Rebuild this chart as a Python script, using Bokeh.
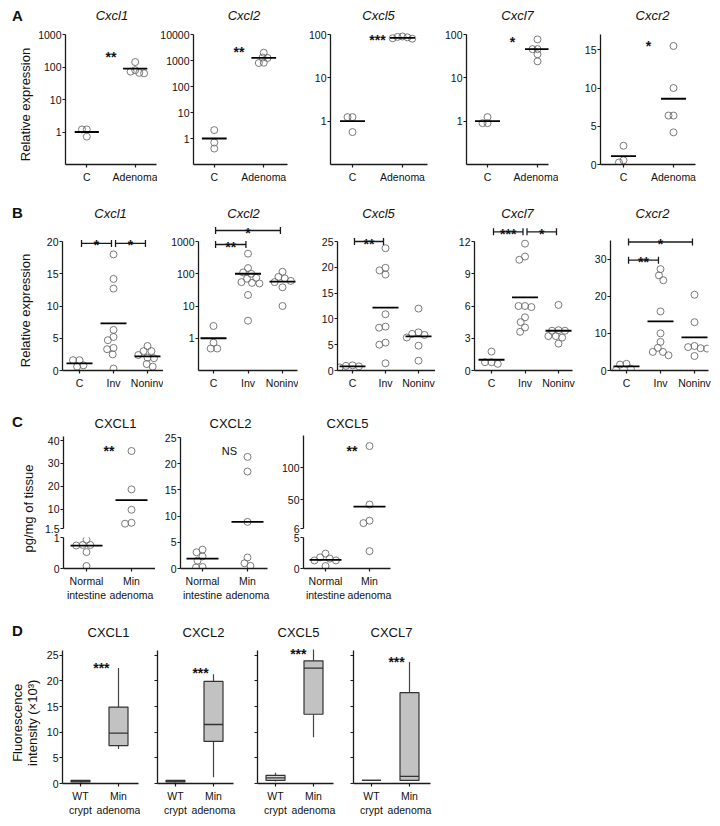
import math
from bokeh.plotting import figure
from bokeh.models import Range1d, FixedTicker, Label, NumeralTickFormatter
from bokeh.layouts import row, column
from bokeh.core.properties import value
from bokeh.embed import file_html
from bokeh.resources import INLINE

# ======================= DATA =======================
# ---- A: relative expression, control (C) vs adenoma ----
a_titles = ["Cxcl1", "Cxcl2", "Cxcl5", "Cxcl7", "Cxcr2"]
a_groups = ["C", "Adenoma"]
a_cxcl1_c = [1.2, 1.2, 0.72]
a_cxcl1_adenoma = [142, 80, 66, 64, 72]
a_cxcl2_c = [2.1, 0.7, 0.41]
a_cxcl2_adenoma = [2000, 1300, 1250, 820, 800]
a_cxcl5_c = [1.24, 1.24, 0.56]
a_cxcl5_adenoma = [90, 86, 82, 88, 80]
a_cxcl7_c = [1.24, 0.9, 0.9]
a_cxcl7_adenoma = [77, 46, 46, 35, 24]
a_cxcr2_c = [2.45, 0.27, 0.55]
a_cxcr2_adenoma = [15.5, 10.0, 6.4, 6.4, 4.2]
a_means = [[1.0, 89], [1.0, 1260], [1.0, 84], [1.0, 46], [1.1, 8.6]]
a_sig = ["**", "**", "***", "*", "*"]
a_sig_y = [350, 4500, 117, 105, 16.6]
a_ticks = [[1, 10, 100, 1000], [1, 10, 100, 1000, 10000], [1, 10, 100], [1, 10, 100], [0, 5, 10, 15]]
a_axis_top = [1000, 10000, 100, 100, 17]

# ---- B: relative expression, C vs invasive vs noninvasive ----
b_titles = ["Cxcl1", "Cxcl2", "Cxcl5", "Cxcl7", "Cxcr2"]
b_groups = ["C", "Inv", "Noninv"]
b_cxcl1_c = [1.6, 0.6, 0.8, 1.6]
b_cxcl1_inv = [18.0, 14.2, 12.7, 6.3, 5.2, 4.7, 3.5, 3.3, 2.5, 0.3]
b_cxcl1_noninv = [3.0, 3.8, 3.0, 2.4, 2.0, 1.9, 1.0, 0.6]
b_cxcl2_c = [2.4, 0.73, 0.48, 0.48]
b_cxcl2_inv = [420, 150, 110, 100, 75, 70, 55, 50, 52, 22, 3.5]
b_cxcl2_noninv = [115, 80, 72, 60, 55, 38, 10]
b_cxcl5_c = [0.9, 0.6, 0.8, 1.0]
b_cxcl5_inv = [23.7, 19.9, 18.6, 19.4, 10.9, 8.3, 8.5, 5.4, 5.0, 1.4]
b_cxcl5_noninv = [12.0, 7.1, 6.9, 7.4, 6.4, 4.8, 1.9]
b_cxcl7_c = [1.76, 0.77, 0.62, 0.77]
b_cxcl7_inv = [11.8, 10.6, 10.3, 6.0, 5.9, 6.0, 4.95, 4.5, 4.0, 3.6]
b_cxcl7_noninv = [6.1, 3.7, 3.7, 3.75, 3.2, 3.06, 3.2, 2.5]
b_cxcr2_c = [1.6, 0.5, 1.8, 0.2]
b_cxcr2_inv = [27.3, 25.6, 24.3, 15.9, 10.0, 7.7, 6.1, 5.0, 5.0, 4.1]
b_cxcr2_noninv = [20.4, 13.0, 6.6, 6.3, 6.0, 5.9, 3.9]
b_means = [[1.1, 7.3, 2.2], [1.0, 100, 57], [0.8, 12.2, 6.6], [1.0, 6.8, 3.7], [1.1, 13.2, 8.9]]
# (group from, group to, label, level)
b_brackets = [[(0, 1, "*", 19.7), (1, 2, "*", 19.7)],
              [(0, 1, "**", 807), (0, 2, "*", 2190)],
              [(0, 1, "**", 25.0)],
              [(0, 1, "***", 12.9), (1, 2, "*", 12.9)],
              [(0, 1, "**", 29.7), (0, 2, "*", 34.6)]]
b_ticks = [[0, 5, 10, 15, 20], [1, 10, 100, 1000], [0, 5, 10, 15, 20, 25], [0, 3, 6, 9, 12], [0, 10, 20, 30]]
b_axis_top = [20, 1000, 25, 12, 35]

# ---- C: protein, pg/mg of tissue ----
c_titles = ["CXCL1", "CXCL2", "CXCL5"]
c_groups = ["Normal\nintestine", "Min\nadenoma"]
c_cxcl1_normal = [0.76, 0.76, 0.74, 0.93, 0.53, 0.08]
c_cxcl1_min = [35.4, 18.6, 9.7, 3.6, 4.0]
c_cxcl2_normal = [3.6, 3.1, 2.3, 1.5, 0.2, 0.3]
c_cxcl2_min = [21.3, 18.5, 8.9, 2.1, 1.0, 0.5]
c_cxcl5_normal = [2.4, 1.6, 1.3, 1.3, 1.8, 0.4]
c_cxcl5_min = [133, 43, 18, 14.3, 2.8]
c_means = [[0.74, 13.9], [1.9, 8.9], [1.4, 39.6]]
c_sig = ["**", "NS", "**"]
c_sig_y = [38.7, 23.1, 137.6]
c_cxcl1_ticks_upper = [1.5, 10, 20, 30, 40]
c_cxcl1_ticks_lower = [0, 1]
c_cxcl2_ticks = [0, 5, 10, 15, 20, 25]
c_cxcl5_ticks_upper = [6, 50, 100]
c_cxcl5_ticks_lower = [0, 5]

# ---- D: fluorescence intensity (x10^3), box stats [low whisker, Q1, median, Q3, high whisker] ----
d_titles = ["CXCL1", "CXCL2", "CXCL5", "CXCL7"]
d_groups = ["WT\ncrypt", "Min\nadenoma"]
d_cxcl1_wt = [0.2, 0.3, 0.45, 0.6, 0.7]
d_cxcl1_min = [6.7, 7.4, 9.8, 14.9, 22.5]
d_cxcl2_wt = [0.2, 0.3, 0.45, 0.6, 0.7]
d_cxcl2_min = [1.2, 8.2, 11.5, 19.9, 21.3]
d_cxcl5_wt = [0.4, 0.6, 1.1, 1.6, 2.1]
d_cxcl5_min = [9.0, 13.5, 22.5, 23.9, 26.1]
d_cxcl7_wt = [0.6, 0.6, 0.6, 0.6, 0.6]
d_cxcl7_min = [0.6, 0.6, 1.4, 17.7, 23.7]
d_sig = ["***", "***", "***", "***"]
d_sig_y = [24.1, 23.1, 26.8, 25.2]
d_ticks = [0, 5, 10, 15, 20, 25]

# ======================= STYLE / LAYOUT =======================
FONT = "Liberation Sans"
INK = "#1a1a1a"
DOT = "#6b6b6b"


def _f(v, log):
    return math.log10(v) if log else v


def _fi(v, log):
    return 10 ** v if log else v


def swarm(ys, d):
    order = sorted(range(len(ys)), key=lambda i: ys[i])
    placed, out = [], [0.0] * len(ys)
    for i in order:
        y = ys[i]
        cands = [0.0]
        for px, py in placed:
            dy = abs(py - y)
            if dy < d:
                dx = math.sqrt(d * d - dy * dy)
                cands += [px + dx, px - dx]
        cands.sort(key=lambda c: (abs(c), c))
        for c in cands:
            if all((c - px) ** 2 + (y - py) ** 2 >= d * d - 1e-6 for px, py in placed):
                out[i] = c
                placed.append((c, y))
                break
    return out


def style_axis(ax, fs="10.5px", standoff=1):
    ax.axis_line_color = INK
    ax.axis_line_width = 1.3
    ax.major_tick_line_color = INK
    ax.major_tick_line_width = 1.2
    ax.major_tick_out = 3
    ax.major_tick_in = 0
    ax.minor_tick_line_color = None
    ax.major_label_text_font = FONT
    ax.major_label_text_font_size = fs
    ax.major_label_text_color = "#111111"
    ax.major_label_standoff = standoff


def bare(p):
    p.outline_line_color = None
    p.background_fill_color = "white"
    p.border_fill_color = "white"


class Panel:
    def __init__(self, fig_x, fig_y, frame_x, frame_y, cats_px, ylog, y_ref,
                 yticks, ybounds, xlabels=None, ylabels=True, swarm_d=6.5):
        (fx0, fx1), (fy0, fy1) = fig_x, fig_y
        (rx0, rx1), (ry0, ry1) = frame_x, frame_y
        (yb_val, yb_px), (yt_val, yt_px) = y_ref
        self.log = ylog
        self.swarm_d = swarm_d
        self.c0 = cats_px[0]
        self.ppx = (cats_px[-1] - cats_px[0]) / (len(cats_px) - 1)
        self.yb_val, self.yb_px = yb_val, yb_px
        self.ppu = (yb_px - yt_px) / (_f(yt_val, ylog) - _f(yb_val, ylog))
        p = figure(width=fx1 - fx0, height=fy1 - fy0, title=None,
                   x_range=Range1d(self.xd(rx0), self.xd(rx1)),
                   y_range=Range1d(self.yd(ry1), self.yd(ry0)),
                   y_axis_type="log" if ylog else "linear",
                   x_axis_location="below" if xlabels else None,
                   min_border_left=rx0 - fx0, min_border_right=fx1 - rx1,
                   min_border_top=ry0 - fy0, min_border_bottom=fy1 - ry1,
                   output_backend="svg", toolbar_location=None)
        bare(p)
        p.xgrid.visible = False
        p.ygrid.visible = False
        ya = p.yaxis[0]
        style_axis(ya)
        ya.ticker = FixedTicker(ticks=yticks)
        ya.formatter = NumeralTickFormatter(format="0.[0]")
        ya.bounds = ybounds
        if not ylabels:
            ya.major_label_overrides = {t: "" for t in yticks}
        if xlabels:
            xa = p.xaxis[0]
            style_axis(xa, standoff=3)
            xa.ticker = FixedTicker(ticks=list(range(1, len(xlabels) + 1)))
            xa.major_label_overrides = {i + 1: lab for i, lab in enumerate(xlabels)}
        self.p = p

    def xd(self, px):
        return 1 + (px - self.c0) / self.ppx

    def yd(self, py):
        return _fi(_f(self.yb_val, self.log) + (self.yb_px - py) / self.ppu, self.log)

    def ypx(self, v):
        return self.yb_px - (_f(v, self.log) - _f(self.yb_val, self.log)) * self.ppu

    def dots(self, ci, vals):
        if not vals:
            return
        offs = swarm([self.ypx(v) for v in vals], self.swarm_d)
        self.p.scatter([ci + o / self.ppx for o in offs], vals, marker="circle", size=7,
                       fill_color=None, line_color=DOT, line_width=0.9)

    def hline(self, ci, v, hw_px):
        hw = hw_px / self.ppx
        self.p.segment(x0=[ci - hw], y0=[v], x1=[ci + hw], y1=[v], line_color="black", line_width=1.8)

    def text(self, x, v, s, fs="14px", bold=True, drop_px=8):
        yb = self.yd(self.ypx(v) + drop_px)
        self.p.text(x=[x], y=[yb], text=[s], text_align="center", text_baseline="alphabetic",
                    text_font=value(FONT), text_font_size=fs,
                    text_font_style="bold" if bold else "normal", text_color="#111111")

    def bracket(self, i, j, v, s):
        x0, x1 = i + 1 + 0.06, j + 1 - 0.06
        self.p.segment(x0=[x0], y0=[v], x1=[x1], y1=[v], line_color=INK, line_width=1.3)
        self.p.scatter([x0, x1], [v, v], marker="dash", angle=math.pi / 2, size=7,
                       line_color=INK, line_width=1.3)
        self.text((x0 + x1) / 2, self.yd(self.ypx(v) - 6), s)

    def box(self, ci, st, fill, w=0.5):
        lo, q1, med, q3, hi = st
        self.p.segment(x0=[ci, ci], y0=[lo, q3], x1=[ci, ci], y1=[q1, hi], line_color="#444444", line_width=1.2)
        self.p.quad(left=[ci - w / 2], right=[ci + w / 2], bottom=[q1], top=[q3],
                    fill_color=fill, line_color="#333333", line_width=1.2)
        self.p.segment(x0=[ci - w / 2], y0=[med], x1=[ci + w / 2], y1=[med], line_color="#333333", line_width=1.3)

    def label(self, px, py, text, size="13px", style="normal", angle=0.0):
        self.p.add_layout(Label(x=self.xd(px), y=self.yd(py), text=text, text_align="center",
                                text_baseline="middle", text_font=FONT, text_font_size=size,
                                text_font_style=style, text_color="#111111", angle=angle))


def gutter(x_span, fig_y, frame_y, items):
    """Narrow text-only strip left of a row: panel letter and y-axis title."""
    (x0, x1), (fy0, fy1), (ry0, ry1) = x_span, fig_y, frame_y
    g = figure(width=x1 - x0, height=fy1 - fy0, title=None,
               x_range=Range1d(x0, x1), y_range=Range1d(-ry1, -ry0),
               x_axis_location=None, y_axis_location=None,
               min_border_left=0, min_border_right=0,
               min_border_top=ry0 - fy0, min_border_bottom=fy1 - ry1,
               output_backend="svg", toolbar_location=None)
    bare(g)
    g.grid.visible = False
    for (px, py, text, size, style, angle) in items:
        g.add_layout(Label(x=px, y=-py, text=text, text_align="center", text_baseline="middle",
                           text_font=FONT, text_font_size=size, text_font_style=style,
                           text_color="#111111", angle=angle))
    return g


# ---------------- Row A ----------------
A_fig_x = [(35, 157), (157, 290), (290, 430), (430, 558), (558, 712)]
A_frame_x = [(62, 156), (192, 287), (330, 427), (466, 548), (600, 695)]
A_cats_px = [(84, 134), (213, 263), (352, 402), (487, 537), (623, 673)]
A_fig_y, A_frame_y = (0, 186), (0, 164)
A_log = [True, True, True, True, False]
A_yref = [((0.1, 164), (1000, 34)), ((0.1, 164), (10000, 34)), ((0.1, 164), (100, 34)),
          ((0.1, 164), (100, 34)), ((0, 164), (17, 34))]
A_title_px = [110, 243, 378, 517, 652]
a_data = [(a_cxcl1_c, a_cxcl1_adenoma), (a_cxcl2_c, a_cxcl2_adenoma), (a_cxcl5_c, a_cxcl5_adenoma),
          (a_cxcl7_c, a_cxcl7_adenoma), (a_cxcr2_c, a_cxcr2_adenoma)]
figs_a = [gutter((0, 35), A_fig_y, A_frame_y,
                 [(17, 15, "A", "15px", "bold", 0.0),
                  (25, 104, "Relative expression", "13px", "normal", math.pi / 2)])]
for i in range(5):
    P = Panel(A_fig_x[i], A_fig_y, A_frame_x[i], A_frame_y, A_cats_px[i], A_log[i], A_yref[i],
              a_ticks[i], (A_yref[i][0][0], a_axis_top[i]), xlabels=a_groups, swarm_d=5.0)
    for gi, vals in enumerate(a_data[i]):
        P.dots(gi + 1, vals)
        P.hline(gi + 1, a_means[i][gi], 12.5)
    P.text(1.5, a_sig_y[i], a_sig[i])
    P.label(A_title_px[i], 15, a_titles[i], style="italic")
    figs_a.append(P.p)

# ---------------- Row B ----------------
B_fig_x = [(35, 163), (163, 298), (298, 435), (435, 575), (575, 712)]
B_frame_x = [(62, 163), (198, 297), (337, 435), (474, 572), (610, 708)]
B_cats_px = [(79, 113, 147), (213, 247, 282), (352, 385, 418), (491, 524, 558), (626, 660, 694)]
B_fig_y, B_frame_y = (186, 392), (186, 370)
B_log = [False, True, False, False, False]
B_yref = [((0, 370), (20, 241)), ((0.1, 370), (1000, 241)), ((0, 370), (25, 241)),
          ((0, 370), (12, 241)), ((0, 370), (35, 240))]
B_title_px = [110, 243, 378, 517, 652]
b_data = [(b_cxcl1_c, b_cxcl1_inv, b_cxcl1_noninv), (b_cxcl2_c, b_cxcl2_inv, b_cxcl2_noninv),
          (b_cxcl5_c, b_cxcl5_inv, b_cxcl5_noninv), (b_cxcl7_c, b_cxcl7_inv, b_cxcl7_noninv),
          (b_cxcr2_c, b_cxcr2_inv, b_cxcr2_noninv)]
figs_b = [gutter((0, 35), B_fig_y, B_frame_y,
                 [(17, 212, "B", "15px", "bold", 0.0),
                  (25, 310, "Relative expression", "13px", "normal", math.pi / 2)])]
for i in range(5):
    P = Panel(B_fig_x[i], B_fig_y, B_frame_x[i], B_frame_y, B_cats_px[i], B_log[i], B_yref[i],
              b_ticks[i], (B_yref[i][0][0], b_axis_top[i]), xlabels=b_groups)
    for gi, vals in enumerate(b_data[i]):
        P.dots(gi + 1, vals)
        P.hline(gi + 1, b_means[i][gi], 13)
    for (g0, g1, s, lev) in b_brackets[i]:
        P.bracket(g0, g1, lev, s)
    P.label(B_title_px[i], 213, b_titles[i], style="italic")
    figs_b.append(P.p)

# ---------------- Row C ----------------
C_fig_y, C_frame_y = (392, 605), (392, 568)
lab = gutter((0, 38), C_fig_y, C_frame_y,
             [(17, 421, "C", "15px", "bold", 0.0),
              (28, 508, "pg/mg of tissue", "13px", "normal", math.pi / 2)])
C_fig_x = [(38, 155), (155, 270), (270, 400)]
C_frame_x = [(63, 155), (180, 267), (303, 390)]
C_cats_px = [(86, 131), (202, 247), (325, 369)]
C_title_px = [115, 230, 347]
C_sig_x = [1.5, 1.6, 1.6]
UP_fig_y, UP_frame_y = (392, 533), (392, 528)
LO_fig_y, LO_frame_y = (533, 605), (537, 568)


def broken(i, normal, mn, up_ref, up_ticks, up_top, lo_ref, lo_ticks):
    up = Panel(C_fig_x[i], UP_fig_y, C_frame_x[i], UP_frame_y, C_cats_px[i], False, up_ref,
               up_ticks, (up_ref[0][0], up_top), xlabels=None)
    lo = Panel(C_fig_x[i], LO_fig_y, C_frame_x[i], LO_frame_y, C_cats_px[i], False, lo_ref,
               lo_ticks, (0, lo_ref[1][0]), xlabels=c_groups)
    cut = up_ref[0][0]
    for gi, vals in enumerate([normal, mn]):
        up.dots(gi + 1, [v for v in vals if v >= cut])
        lo.dots(gi + 1, [v for v in vals if v < cut])
        m = c_means[i][gi]
        (up if m >= cut else lo).hline(gi + 1, m, 16)
    up.text(C_sig_x[i], c_sig_y[i], c_sig[i])
    up.label(C_title_px[i], 423, c_titles[i])
    return column(up.p, lo.p)


c1 = broken(0, c_cxcl1_normal, c_cxcl1_min, ((1.5, 528), (40, 440)), c_cxcl1_ticks_upper, 41.7,
            ((0, 568), (1, 537)), c_cxcl1_ticks_lower)
P = Panel(C_fig_x[1], C_fig_y, C_frame_x[1], C_frame_y, C_cats_px[1], False, ((0, 568), (25, 437)),
          c_cxcl2_ticks, (0, 25), xlabels=c_groups)
for gi, vals in enumerate([c_cxcl2_normal, c_cxcl2_min]):
    P.dots(gi + 1, vals)
    P.hline(gi + 1, c_means[1][gi], 16)
P.text(C_sig_x[1], c_sig_y[1], c_sig[1], fs="11px", bold=False, drop_px=4)
P.label(C_title_px[1], 423, c_titles[1])
c2 = P.p
c3 = broken(2, c_cxcl5_normal, c_cxcl5_min, ((6, 528), (100, 467)), c_cxcl5_ticks_upper, 149,
            ((0, 568), (5, 537)), c_cxcl5_ticks_lower)

# ---------------- Row D ----------------
D_fig_x = [(41, 140), (140, 236), (236, 336), (336, 434)]
D_frame_x = [(62, 138), (157, 233), (257, 333), (353, 430)]
D_cats_px = [(80, 118), (175, 213), (275, 313), (371, 409)]
D_fig_y, D_frame_y = (605, 818), (605, 784)
D_title_px = [108, 203, 298, 391]
D_sig_x = [1.55, 1.66, 1.6, 1.66]
d_data = [(d_cxcl1_wt, d_cxcl1_min), (d_cxcl2_wt, d_cxcl2_min), (d_cxcl5_wt, d_cxcl5_min),
          (d_cxcl7_wt, d_cxcl7_min)]
wt_fill = ["#b8b8b8", "#b8b8b8", "#dadada", "#b8b8b8"]
figs_d = [gutter((0, 41), D_fig_y, D_frame_y,
                 [(17, 630, "D", "15px", "bold", 0.0),
                  (17, 723, "Fluorescence", "13px", "normal", math.pi / 2),
                  (32, 723, "intensity (\u00d710\u00b3)", "13px", "normal", math.pi / 2)])]
for i in range(4):
    P = Panel(D_fig_x[i], D_fig_y, D_frame_x[i], D_frame_y, D_cats_px[i], False, ((0, 784), (25, 655)),
              d_ticks, (0, 26), xlabels=d_groups, ylabels=(i == 0))
    P.box(1, d_data[i][0], wt_fill[i])
    P.box(2, d_data[i][1], "#c2c2c2")
    P.text(D_sig_x[i], d_sig_y[i], d_sig[i])
    P.label(D_title_px[i], 632, d_titles[i])
    figs_d.append(P.p)

layout = column(row(*figs_a), row(*figs_b), row(lab, c1, c2, c3), row(*figs_d))
open("out.html", "w").write(file_html(layout, INLINE))
